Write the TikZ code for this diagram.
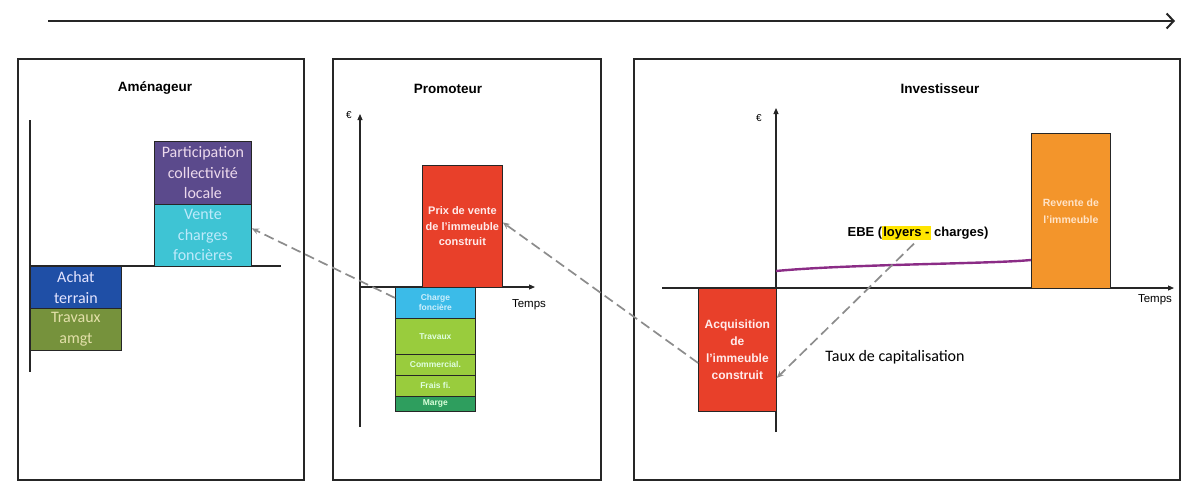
\documentclass[tikz,border=0pt]{standalone}
\usepackage{fontspec}
\setmainfont{Liberation Sans}
\newfontfamily\calibri{Carlito}
\usetikzlibrary{arrows.meta}
\definecolor{cpurple}{HTML}{5B4A8C}
\definecolor{ccyan}{HTML}{3EC4D4}
\definecolor{cblue}{HTML}{1F4FA6}
\definecolor{colive}{HTML}{76923C}
\definecolor{cred}{HTML}{E8402A}
\definecolor{clblue}{HTML}{3BBBE8}
\definecolor{cygreen}{HTML}{99CC3D}
\definecolor{cdgreen}{HTML}{2E9E5E}
\definecolor{corange}{HTML}{F3952B}
\definecolor{cline}{HTML}{8B2C86}
\definecolor{cdash}{HTML}{8C8C8C}
\definecolor{chl}{HTML}{FFE500}
\begin{document}
\begin{tikzpicture}[x=1pt,y=-1pt,
  panel/.style={draw=black!85,line width=1.5pt},
  bx/.style={draw=black!85,line width=0.8pt,inner sep=0pt,align=center,anchor=north west},
  ttl/.style={font=\bfseries\fontsize{13.5}{15}\selectfont},
  axis/.style={draw=black!85,line width=1.1pt},
  axarr/.style={axis,-{Triangle[length=6pt,width=5pt]}},
  conn/.style={draw=cdash,line width=1.7pt,dash pattern=on 10pt off 5pt,-{Stealth[length=7pt,width=6pt]}},
  cal/.style={font=\calibri\fontsize{16}{20.5}\selectfont},
  arb/.style={font=\bfseries\fontsize{11}{15.5}\selectfont},
  sml/.style={font=\bfseries\fontsize{8.5}{10}\selectfont},
  lbl/.style={font=\fontsize{11.5}{13}\selectfont}
]
\useasboundingbox (0,0) rectangle (1184,482);
% timeline arrow
\coordinate (t0) at (48,21);
\coordinate (t1) at (1175,21);
\draw[line width=1.8pt,draw=black!85,-{Straight Barb[length=7pt,width=15pt,line width=2pt]}] (t0) -- (t1);
% panels
\draw[panel] (18,59) rectangle (304,480);
\draw[panel] (333,59) rectangle (601,480);
\draw[panel] (634,59) rectangle (1180,480);
\node[ttl] (t1n) at (155,88) {Aménageur};
\node[ttl] (t2n) at (448,89) {Promoteur};
\node[ttl] (t3n) at (940,89) {Investisseur};

% ---------- Aménageur
\coordinate (a0) at (30,120);
\coordinate (a1) at (30,372);
\draw[axis,line width=1.5pt] (a0) -- (a1);
\coordinate (h0) at (30,266);
\coordinate (h1) at (281,266);
\draw[axis,line width=1.3pt] (h0) -- (h1);
\node[bx,fill=cpurple,minimum width=97pt,minimum height=63pt,cal,text=violet!15] (part) at (154,141) {Participation\\collectivité\\locale};
\node[bx,fill=ccyan,minimum width=97pt,minimum height=62pt,cal,text=cyan!25] (vente) at (154,204) {Vente\\charges\\foncières};
\node[bx,fill=cblue,minimum width=91pt,minimum height=42pt,cal,text=blue!10] (achat) at (30,266) {Achat\\terrain};
\node[bx,fill=colive,minimum width=91pt,minimum height=42pt,cal,text=olive!25] (trav) at (30,308) {Travaux\\amgt};

% ---------- Promoteur
\coordinate (p0) at (360,427);
\coordinate (p1) at (360,114);
\coordinate (q0) at (360,287);
\coordinate (q1) at (535,287);
\draw[axarr] (p0) -- (p1);
\draw[axarr] (q0) -- (q1);
\node[font=\fontsize{10}{11}\selectfont] (eur1) at (349,115) {€};
\node[lbl] (tps1) at (529,305) {Temps};
\node[bx,fill=cred,minimum width=80pt,minimum height=122pt,arb,text=white!92!red] (prix) at (422,165) {Prix de vente\\de l'immeuble\\construit};
\node[bx,fill=clblue,minimum width=80pt,minimum height=31pt,sml,text=cyan!20] (charge) at (395,287) {Charge\\foncière};
\node[bx,fill=cygreen,minimum width=80pt,minimum height=36pt,sml,text=green!12] (trav2) at (395,318) {Travaux};
\node[bx,fill=cygreen,minimum width=80pt,minimum height=21pt,sml,text=green!12] (comm) at (395,354) {Commercial.};
\node[bx,fill=cygreen,minimum width=80pt,minimum height=21pt,sml,text=green!12] (frais) at (395,375) {Frais fi.};
\node[bx,fill=cdgreen,minimum width=80pt,minimum height=15pt,sml,text=green!15] (marge) at (395,396) {Marge};

% ---------- Investisseur
\coordinate (v0) at (776,432);
\coordinate (v1) at (776,108);
\coordinate (w0) at (662,288);
\coordinate (w1) at (1174,288);
\draw[axarr] (v0) -- (v1);
\draw[axarr] (w0) -- (w1);
\node[font=\fontsize{10}{11}\selectfont] (eur2) at (759,118) {€};
\node[lbl] (tps2) at (1155,300) {Temps};
\node[bx,fill=cred,minimum width=78pt,minimum height=123pt,font=\bfseries\fontsize{12}{17}\selectfont,text=white!92!red] (acq) at (698,288) {Acquisition\\de\\l'immeuble\\construit};
\node[bx,fill=corange,minimum width=79pt,minimum height=155pt,font=\bfseries\fontsize{10.5}{17}\selectfont,text=orange!22] (revente) at (1031,133) {Revente de\\l'immeuble};
\coordinate (e0) at (776,271);
\coordinate (e1) at (1031,260);
\draw[draw=cline,line width=2.4pt] (e0) .. controls (850,264) and (990,264) .. (e1);
\setlength{\fboxsep}{1pt}
\node[font=\bfseries\fontsize{13}{15}\selectfont] (ebe) at (918,233) {EBE (\colorbox{chl}{loyers -} charges)};
\node[cal] (taux) at (895,357) {Taux de capitalisation};

% ---------- connectors
\draw[conn] ([yshift=5pt]charge.west) -- ([yshift=7pt]vente.east);
\draw[conn] ([yshift=-13pt]acq.west) -- ([yshift=4pt]prix.east);
\draw[conn] ([xshift=-4pt]ebe.south) -- ([yshift=-28pt]acq.east);
\end{tikzpicture}
\end{document}
